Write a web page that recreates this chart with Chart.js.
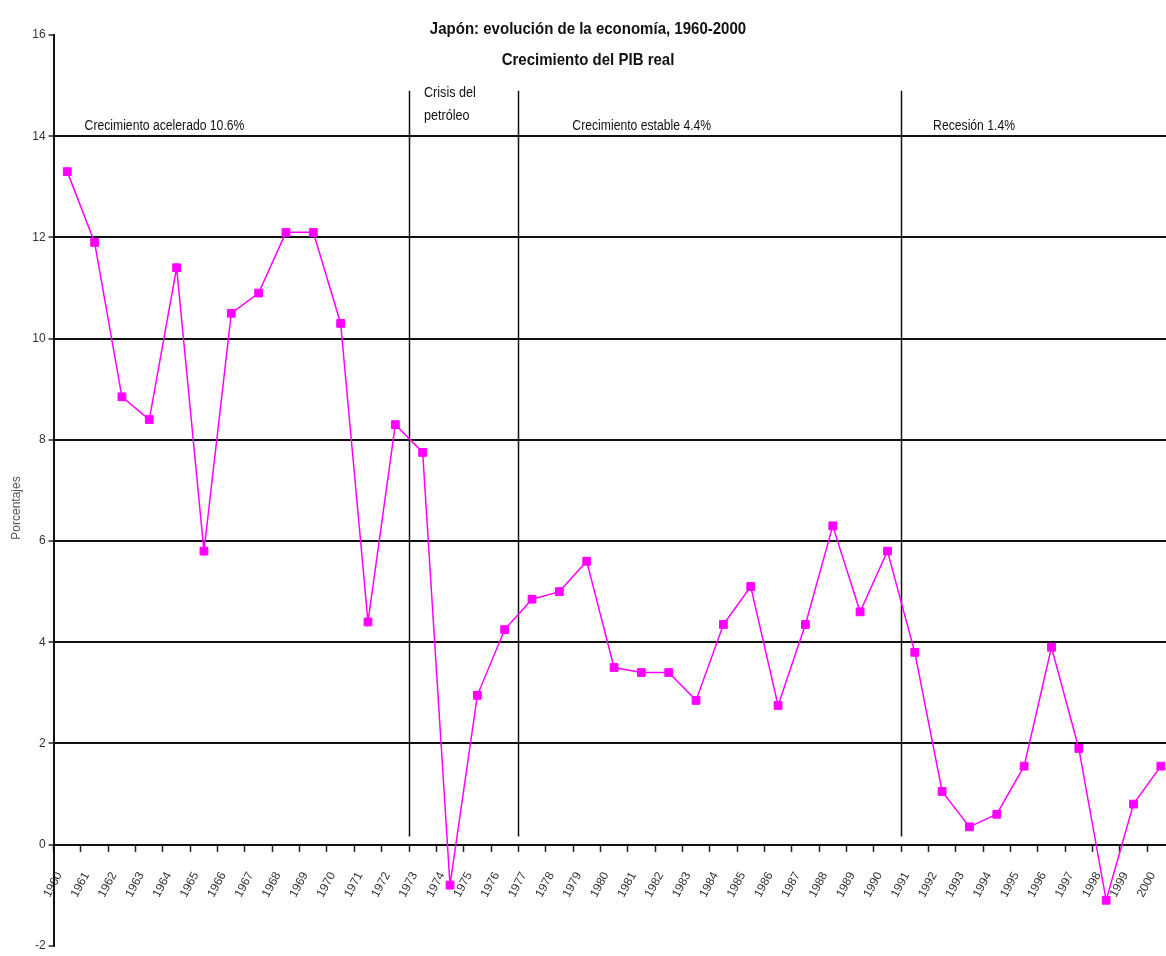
<!DOCTYPE html>
<html>
<head>
<meta charset="utf-8">
<script src="https://cdn.jsdelivr.net/npm/chart.js@4.4.1/dist/chart.umd.min.js"></script>
<style>
html,body{margin:0;padding:0;background:#fff;overflow:hidden;}
#wrap{width:1166px;height:956px;overflow:hidden;position:relative;background:#fff;}
canvas{display:block;}
</style>
</head>
<body>
<div id="wrap"><canvas id="c" width="1181" height="956"></canvas></div>
<script>
// ---- data ----
const years = ['1960','1961','1962','1963','1964','1965','1966','1967','1968','1969',
  '1970','1971','1972','1973','1974','1975','1976','1977','1978','1979',
  '1980','1981','1982','1983','1984','1985','1986','1987','1988','1989',
  '1990','1991','1992','1993','1994','1995','1996','1997','1998','1999','2000'];
const gdpGrowth = [13.3, 11.9, 8.85, 8.4, 11.4, 5.8, 10.5, 10.9, 12.1, 12.1,
  10.3, 4.4, 8.3, 7.75, -0.8, 2.95, 4.25, 4.85, 5.0, 5.6,
  3.5, 3.4, 3.4, 2.85, 4.35, 5.1, 2.75, 4.35, 6.3, 4.6,
  5.8, 3.8, 1.05, 0.35, 0.6, 1.55, 3.9, 1.9, -1.1, 0.8, 1.55];
const yTicks = [-2, 0, 2, 4, 6, 8, 10, 12, 14, 16];
const titleLines = ['Japón: evolución de la economía, 1960-2000', 'Crecimiento del PIB real'];
const yAxisTitle = 'Porcentajes';
const periodBreaks = ['1973', '1977', '1991'];
const periodTexts = [['Crecimiento acelerado 10.6%'], ['Crisis del', 'petróleo'], ['Crecimiento estable 4.4%'], ['Recesión 1.4%']];

const FONT = "'Liberation Sans', Arial, sans-serif";

function drawScaled(ctx, text, x, y, size, bold, sx, align, color) {
  ctx.save();
  ctx.font = (bold ? 'bold ' : '') + size + 'px ' + FONT;
  ctx.fillStyle = color;
  ctx.textBaseline = 'alphabetic';
  ctx.textAlign = align;
  ctx.translate(x, y);
  ctx.scale(sx, 1);
  ctx.fillText(text, 0, 0);
  ctx.restore();
}

const periodPlugin = {
  id: 'periods',
  beforeDatasetsDraw(chart) {
    const {ctx, scales: {x, y}} = chart;
    ctx.save();
    ctx.strokeStyle = '#111';
    ctx.lineWidth = 1.5;
    periodBreaks.forEach(lbl => {
      const i = years.indexOf(lbl);
      const px = Math.round((x.getPixelForValue(i - 1) + x.getPixelForValue(i)) / 2) + 0.5;
      ctx.beginPath();
      ctx.moveTo(px, y.getPixelForValue(14.9));
      ctx.lineTo(px, y.getPixelForValue(0.16));
      ctx.stroke();
    });
    ctx.restore();
  },
  afterDraw(chart) {
    const {ctx, scales: {x, y}, chartArea} = chart;
    const cx = 588;
    drawScaled(ctx, titleLines[0], cx, 34, 16.5, true, 0.91, 'center', '#111');
    drawScaled(ctx, titleLines[1], cx, 65, 16.5, true, 0.91, 'center', '#111');

    const brk = periodBreaks.map(lbl => {
      const i = years.indexOf(lbl);
      return (x.getPixelForValue(i - 1) + x.getPixelForValue(i)) / 2;
    });
    const base = y.getPixelForValue(14) - 6;
    drawScaled(ctx, periodTexts[0][0], chartArea.left + 31, base, 14, false, 0.87, 'left', '#111');
    drawScaled(ctx, periodTexts[1][0], brk[0] + 15, base - 33, 14, false, 0.9, 'left', '#111');
    drawScaled(ctx, periodTexts[1][1], brk[0] + 15, base - 10, 14, false, 0.9, 'left', '#111');
    drawScaled(ctx, periodTexts[2][0], brk[1] + 54, base, 14, false, 0.87, 'left', '#111');
    drawScaled(ctx, periodTexts[3][0], brk[2] + 32, base, 14, false, 0.87, 'left', '#111');

    ctx.save();
    ctx.translate(17, 508);
    ctx.rotate(-Math.PI / 2);
    ctx.font = '12px ' + FONT;
    ctx.fillStyle = '#555';
    ctx.textAlign = 'center';
    ctx.textBaseline = 'middle';
    ctx.fillText(yAxisTitle, 0, 0);
    ctx.restore();
  }
};

new Chart(document.getElementById('c'), {
  type: 'line',
  data: {
    labels: years,
    datasets: [{
      data: gdpGrowth,
      borderColor: '#FF00FF',
      backgroundColor: '#FF00FF',
      borderWidth: 1.5,
      pointStyle: 'rect',
      pointRadius: 5.5,
      pointBorderWidth: 1,
      pointBorderColor: '#FF00FF',
      pointBackgroundColor: '#FF00FF',
      tension: 0
    }]
  },
  options: {
    responsive: false,
    animation: false,
    devicePixelRatio: 1,
    layout: {padding: {top: 35, bottom: 9, left: 0, right: 2}},
    plugins: {legend: {display: false}, title: {display: false}, tooltip: {enabled: false}},
    scales: {
      x: {
        type: 'category',
        position: {y: 0},
        offset: true,
        afterFit: s => { s.paddingLeft = 0; s.paddingRight = 0; },
        grid: {offset: true, drawOnChartArea: false, drawTicks: true, tickLength: 6, tickColor: '#222', tickWidth: 1.5},
        border: {display: true, color: '#111', width: 2},
        ticks: {autoSkip: false, minRotation: 62, maxRotation: 62, padding: 19, labelOffset: -8, color: '#333', font: {size: 12, family: FONT}}
      },
      y: {
        min: -2, max: 16,
        afterBuildTicks: s => { s.ticks = yTicks.map(v => ({value: v})); },
        afterFit: s => { s.width = 53.6; },
        grid: {
          color: c => (c.tick && c.tick.value > -2 && c.tick.value < 16) ? '#111' : 'rgba(0,0,0,0)',
          lineWidth: 2, drawTicks: true, tickLength: 5, tickColor: '#222', tickWidth: 1.5
        },
        border: {display: true, color: '#111', width: 2},
        ticks: {padding: 3, color: '#333', font: {size: 12, family: FONT}}
      }
    }
  },
  plugins: [periodPlugin]
});
</script>
</body>
</html>
